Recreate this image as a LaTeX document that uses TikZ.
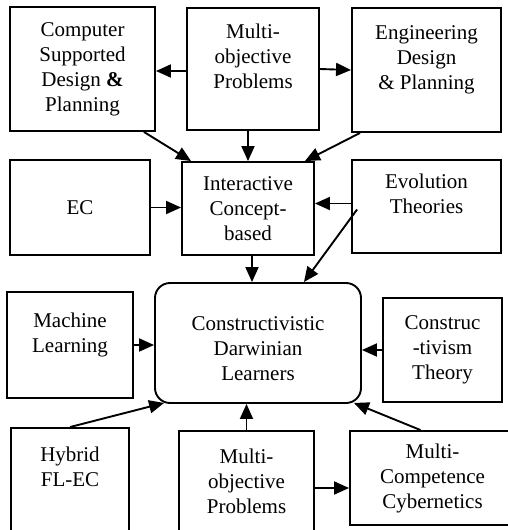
\documentclass[tikz,border=0pt]{standalone}
\usepackage{fontspec}
\setmainfont{Liberation Serif}
\usetikzlibrary{arrows.meta,calc,positioning}

\begin{document}
\begin{tikzpicture}[x=1pt,y=-1pt,
    box/.style={draw,line width=1.9pt,align=center,inner sep=0pt,
      font=\fontsize{21pt}{25pt}\selectfont},
    link/.style={line width=1.9pt,-{Triangle[length=15pt,width=13pt]}}]
      \useasboundingbox (0,0) rectangle (508,530);
      \clip (0,0) rectangle (508,530);
      \node[box,minimum width=145,minimum height=124] (csd) at (82.5,69) {Computer\\Supported\\Design \textbf{\&}\\Planning};
      \node[box,minimum width=132,minimum height=122] (mopt) at (253,69) {Multi-\\objective\\Problems\\~};
      \node[box,minimum width=149,minimum height=124] (edp) at (426.5,70) {Engineering\\Design\\\& Planning\\~};
      \node[box,minimum width=140,minimum height=95] (ec) at (80,207.5) {EC};
      \node[box,minimum width=132,minimum height=93] (icb) at (248,208.5) {Interactive\\Concept-\\based};
      \node[box,minimum width=149,minimum height=93] (evo) at (426.5,206.5) {Evolution\\Theories\\~};
      \node[box,rounded corners=15pt,minimum width=206,minimum height=120] (cdl) at (258,343) {~\\Constructivistic\\Darwinian\\Learners};
      \node[box,minimum width=126,minimum height=106] (ml) at (70,345) {Machine\\Learning\\~};
      \node[box,minimum width=119,minimum height=104] (con) at (442.5,350) {Construc\\-tivism\\Theory};
      \node[box,minimum width=118,minimum height=128] (hyb) at (70,492) {Hybrid\\FL-EC\\~\\~};
      \node[box,minimum width=135,minimum height=100] (mob) at (246.5,481) {Multi-\\objective\\Problems};
      \node[box,minimum width=165,minimum height=94] (mcc) at (432.5,478) {Multi-\\Competence\\Cybernetics};
      \draw[link] ($(mopt.west)+(0,2)$) -- ($(csd.east)+(0,2)$);
      \draw[link] (mopt.east) -- (edp.west);
      \draw[link] (mopt.south -| icb.north) -- (icb.north);
      \draw[link] ($(csd.south east)+(-12,0)$) -- ($(icb.north west)+(10,0)$);
      \draw[link] ($(edp.south west)+(9,0)$) -- ($(icb.north east)+(-10,0)$);
      \draw[link] (ec.east) -- (ec.east -| icb.west);
      \draw[link] ($(evo.west)+(0,-3)$) -- ($(evo.west -| icb.east)+(0,-3)$);
      \draw[link] ($(evo.west)+(6,3)$) -- ($(cdl.north east)+(-58,0)$);
      \draw[link] ($(icb.south)+(4,0)$) -- ($(icb.south |- cdl.north)+(4,0)$);
      \draw[link] (ml.east) -- (ml.east -| cdl.west);
      \draw[link] (con.west) -- (con.west -| cdl.east);
      \draw[link] (hyb.north) -- ($(cdl.south west)+(10,-1)$);
      \draw[link] (mob.north) -- (mob.north |- cdl.south);
      \draw[link] ($(mob.east)+(0,7)$) -- ($(mob.east -| mcc.west)+(0,7)$);
      \draw[link] ($(mcc.north)+(-12,0)$) -- ($(cdl.south east)+(-8,-1)$);
\end{tikzpicture}
\end{document}
